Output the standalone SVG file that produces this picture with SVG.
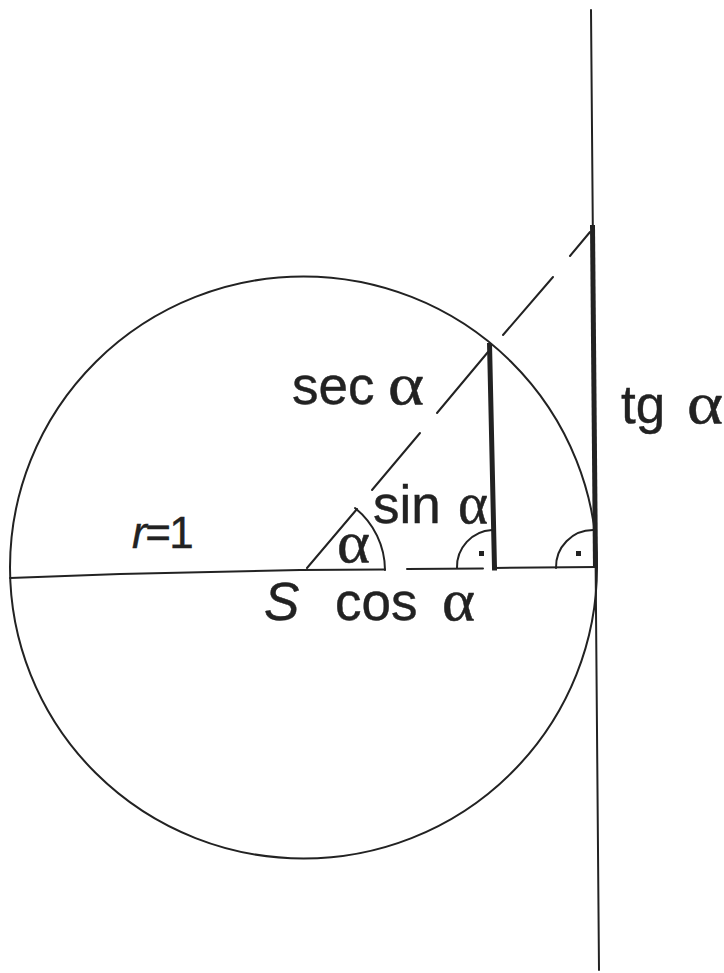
<svg xmlns="http://www.w3.org/2000/svg" width="724" height="973" viewBox="0 0 724 973">
<style>
.thin{fill:none;stroke:#222;stroke-width:2;stroke-linecap:round}
.thick{fill:none;stroke:#222;stroke-width:5;stroke-linecap:butt}
.lbl{font-family:"Liberation Sans",Arial,sans-serif;font-size:53px;fill:#222;stroke:#222;stroke-width:0.4}
.al{font-family:"Liberation Serif","Times New Roman",serif;font-size:60px;fill:#222;stroke:#222;stroke-width:0.5}
</style>
<rect width="724" height="973" fill="#fff"/>
<g id="circle">
<ellipse class="thin" cx="303.5" cy="567.5" rx="293.5" ry="291"/>
</g>
<g id="connectors">
<polyline class="thin" points="10,578 120,574 300,570 385,569.5"/>
<line class="thin" x1="407" y1="569" x2="483" y2="568.5"/>
<line class="thin" x1="494" y1="568" x2="597" y2="567"/>
<line class="thin" x1="591" y1="10" x2="599" y2="970"/>
<line class="thick" x1="592.5" y1="225" x2="595.5" y2="568"/>
<polyline class="thick" points="489.5,343 494.5,568 497,568"/>
<line class="thin" x1="307" y1="568" x2="357" y2="509"/>
<line class="thin" x1="372" y1="490" x2="420" y2="433"/>
<line class="thin" x1="437" y1="413" x2="488" y2="352"/>
<line class="thin" x1="503" y1="335" x2="553" y2="277"/>
<line class="thin" x1="570" y1="256" x2="590" y2="232"/>
<path class="thin" d="M355,508 A80,80 0 0 1 385,570"/>
<path class="thin" d="M457,568 A37,37 0 0 1 492,530"/>
<path class="thin" d="M556,568 A37,37 0 0 1 593,530"/>
<rect x="479" y="551" width="5" height="5" fill="#222"/>
<rect x="576" y="551" width="5" height="5" fill="#222"/>
</g>
<g id="labels">
<text class="lbl" x="292" y="404">sec</text>
<text class="al" x="388" y="404" textLength="36" lengthAdjust="spacingAndGlyphs">α</text>
<text class="lbl" x="621" y="423">tg</text>
<text class="al" x="687" y="423" textLength="36" lengthAdjust="spacingAndGlyphs">α</text>
<text class="lbl" x="373" y="523">sin</text>
<text class="al" x="458" y="523" textLength="30" lengthAdjust="spacingAndGlyphs">α</text>
<text class="al" x="337" y="562" textLength="33" lengthAdjust="spacingAndGlyphs">α</text>
<text class="lbl" x="264" y="620" font-style="italic">S</text>
<text class="lbl" x="335" y="620">cos</text>
<text class="al" x="442" y="620" textLength="33" lengthAdjust="spacingAndGlyphs">α</text>
<text class="lbl" x="132" y="548" style="font-size:44px;letter-spacing:-1.5px"><tspan font-style="italic">r</tspan>=1</text>
</g>
</svg>
